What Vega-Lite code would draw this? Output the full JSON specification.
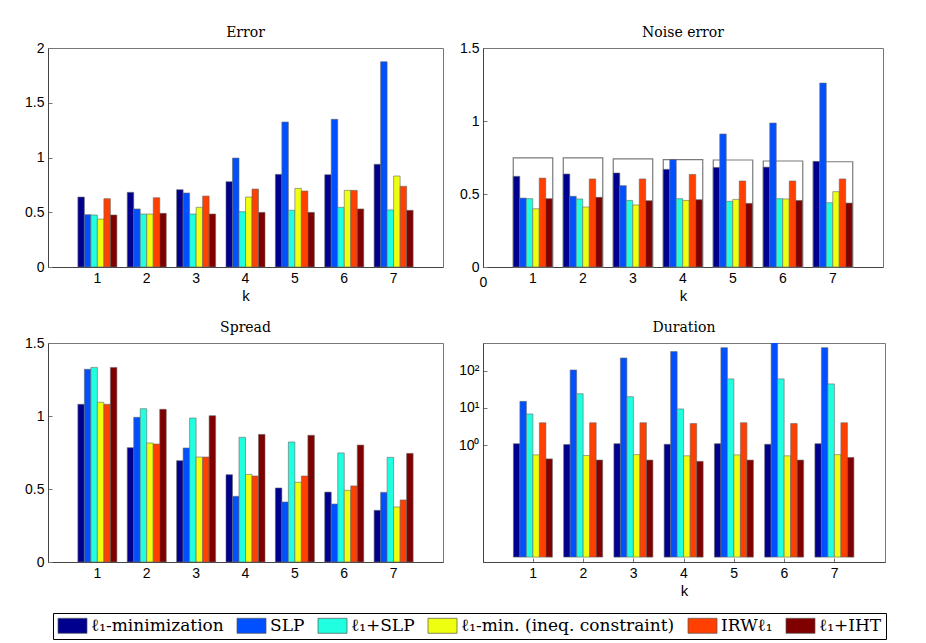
{
  "$schema": "https://vega.github.io/schema/vega-lite/v6.json",
  "autosize": {"type": "none"},
  "padding": {"left": 48, "top": 48, "right": 878, "bottom": 595},
  "background": "white",
  "spacing": 16,
  "datasets": {
    "bars": [
      {"p":"Error","k":1,"m":"ℓ₁-minimization","v":0.639},{"p":"Error","k":1,"m":"SLP","v":0.478},{"p":"Error","k":1,"m":"ℓ₁+SLP","v":0.475},{"p":"Error","k":1,"m":"ℓ₁-min. (ineq. constraint)","v":0.438},{"p":"Error","k":1,"m":"IRWℓ₁","v":0.624},{"p":"Error","k":1,"m":"ℓ₁+IHT","v":0.475},
      {"p":"Error","k":2,"m":"ℓ₁-minimization","v":0.682},{"p":"Error","k":2,"m":"SLP","v":0.530},{"p":"Error","k":2,"m":"ℓ₁+SLP","v":0.484},{"p":"Error","k":2,"m":"ℓ₁-min. (ineq. constraint)","v":0.484},{"p":"Error","k":2,"m":"IRWℓ₁","v":0.633},{"p":"Error","k":2,"m":"ℓ₁+IHT","v":0.490},
      {"p":"Error","k":3,"m":"ℓ₁-minimization","v":0.706},{"p":"Error","k":3,"m":"SLP","v":0.676},{"p":"Error","k":3,"m":"ℓ₁+SLP","v":0.484},{"p":"Error","k":3,"m":"ℓ₁-min. (ineq. constraint)","v":0.545},{"p":"Error","k":3,"m":"IRWℓ₁","v":0.648},{"p":"Error","k":3,"m":"ℓ₁+IHT","v":0.484},
      {"p":"Error","k":4,"m":"ℓ₁-minimization","v":0.779},{"p":"Error","k":4,"m":"SLP","v":0.995},{"p":"Error","k":4,"m":"ℓ₁+SLP","v":0.505},{"p":"Error","k":4,"m":"ℓ₁-min. (ineq. constraint)","v":0.639},{"p":"Error","k":4,"m":"IRWℓ₁","v":0.712},{"p":"Error","k":4,"m":"ℓ₁+IHT","v":0.499},
      {"p":"Error","k":5,"m":"ℓ₁-minimization","v":0.846},{"p":"Error","k":5,"m":"SLP","v":1.324},{"p":"Error","k":5,"m":"ℓ₁+SLP","v":0.518},{"p":"Error","k":5,"m":"ℓ₁-min. (ineq. constraint)","v":0.718},{"p":"Error","k":5,"m":"IRWℓ₁","v":0.694},{"p":"Error","k":5,"m":"ℓ₁+IHT","v":0.499},
      {"p":"Error","k":6,"m":"ℓ₁-minimization","v":0.843},{"p":"Error","k":6,"m":"SLP","v":1.349},{"p":"Error","k":6,"m":"ℓ₁+SLP","v":0.545},{"p":"Error","k":6,"m":"ℓ₁-min. (ineq. constraint)","v":0.700},{"p":"Error","k":6,"m":"IRWℓ₁","v":0.700},{"p":"Error","k":6,"m":"ℓ₁+IHT","v":0.530},
      {"p":"Error","k":7,"m":"ℓ₁-minimization","v":0.938},{"p":"Error","k":7,"m":"SLP","v":1.875},{"p":"Error","k":7,"m":"ℓ₁+SLP","v":0.521},{"p":"Error","k":7,"m":"ℓ₁-min. (ineq. constraint)","v":0.831},{"p":"Error","k":7,"m":"IRWℓ₁","v":0.737},{"p":"Error","k":7,"m":"ℓ₁+IHT","v":0.518},

      {"p":"Noise","k":1,"m":"ℓ₁-minimization","v":0.621},{"p":"Noise","k":1,"m":"SLP","v":0.472},{"p":"Noise","k":1,"m":"ℓ₁+SLP","v":0.468},{"p":"Noise","k":1,"m":"ℓ₁-min. (ineq. constraint)","v":0.399},{"p":"Noise","k":1,"m":"IRWℓ₁","v":0.609},{"p":"Noise","k":1,"m":"ℓ₁+IHT","v":0.468},
      {"p":"Noise","k":2,"m":"ℓ₁-minimization","v":0.637},{"p":"Noise","k":2,"m":"SLP","v":0.484},{"p":"Noise","k":2,"m":"ℓ₁+SLP","v":0.466},{"p":"Noise","k":2,"m":"ℓ₁-min. (ineq. constraint)","v":0.411},{"p":"Noise","k":2,"m":"IRWℓ₁","v":0.603},{"p":"Noise","k":2,"m":"ℓ₁+IHT","v":0.477},
      {"p":"Noise","k":3,"m":"ℓ₁-minimization","v":0.644},{"p":"Noise","k":3,"m":"SLP","v":0.557},{"p":"Noise","k":3,"m":"ℓ₁+SLP","v":0.456},{"p":"Noise","k":3,"m":"ℓ₁-min. (ineq. constraint)","v":0.425},{"p":"Noise","k":3,"m":"IRWℓ₁","v":0.603},{"p":"Noise","k":3,"m":"ℓ₁+IHT","v":0.454},
      {"p":"Noise","k":4,"m":"ℓ₁-minimization","v":0.669},{"p":"Noise","k":4,"m":"SLP","v":0.735},{"p":"Noise","k":4,"m":"ℓ₁+SLP","v":0.468},{"p":"Noise","k":4,"m":"ℓ₁-min. (ineq. constraint)","v":0.456},{"p":"Noise","k":4,"m":"IRWℓ₁","v":0.634},{"p":"Noise","k":4,"m":"ℓ₁+IHT","v":0.461},
      {"p":"Noise","k":5,"m":"ℓ₁-minimization","v":0.682},{"p":"Noise","k":5,"m":"SLP","v":0.911},{"p":"Noise","k":5,"m":"ℓ₁+SLP","v":0.450},{"p":"Noise","k":5,"m":"ℓ₁-min. (ineq. constraint)","v":0.463},{"p":"Noise","k":5,"m":"IRWℓ₁","v":0.589},{"p":"Noise","k":5,"m":"ℓ₁+IHT","v":0.436},
      {"p":"Noise","k":6,"m":"ℓ₁-minimization","v":0.684},{"p":"Noise","k":6,"m":"SLP","v":0.986},{"p":"Noise","k":6,"m":"ℓ₁+SLP","v":0.468},{"p":"Noise","k":6,"m":"ℓ₁-min. (ineq. constraint)","v":0.466},{"p":"Noise","k":6,"m":"IRWℓ₁","v":0.589},{"p":"Noise","k":6,"m":"ℓ₁+IHT","v":0.456},
      {"p":"Noise","k":7,"m":"ℓ₁-minimization","v":0.723},{"p":"Noise","k":7,"m":"SLP","v":1.260},{"p":"Noise","k":7,"m":"ℓ₁+SLP","v":0.440},{"p":"Noise","k":7,"m":"ℓ₁-min. (ineq. constraint)","v":0.516},{"p":"Noise","k":7,"m":"IRWℓ₁","v":0.603},{"p":"Noise","k":7,"m":"ℓ₁+IHT","v":0.438},

      {"p":"Spread","k":1,"m":"ℓ₁-minimization","v":1.080},{"p":"Spread","k":1,"m":"SLP","v":1.320},{"p":"Spread","k":1,"m":"ℓ₁+SLP","v":1.333},{"p":"Spread","k":1,"m":"ℓ₁-min. (ineq. constraint)","v":1.094},{"p":"Spread","k":1,"m":"IRWℓ₁","v":1.080},{"p":"Spread","k":1,"m":"ℓ₁+IHT","v":1.333},
      {"p":"Spread","k":2,"m":"ℓ₁-minimization","v":0.783},{"p":"Spread","k":2,"m":"SLP","v":0.991},{"p":"Spread","k":2,"m":"ℓ₁+SLP","v":1.050},{"p":"Spread","k":2,"m":"ℓ₁-min. (ineq. constraint)","v":0.815},{"p":"Spread","k":2,"m":"IRWℓ₁","v":0.808},{"p":"Spread","k":2,"m":"ℓ₁+IHT","v":1.046},
      {"p":"Spread","k":3,"m":"ℓ₁-minimization","v":0.694},{"p":"Spread","k":3,"m":"SLP","v":0.781},{"p":"Spread","k":3,"m":"ℓ₁+SLP","v":0.986},{"p":"Spread","k":3,"m":"ℓ₁-min. (ineq. constraint)","v":0.719},{"p":"Spread","k":3,"m":"IRWℓ₁","v":0.719},{"p":"Spread","k":3,"m":"ℓ₁+IHT","v":1.002},
      {"p":"Spread","k":4,"m":"ℓ₁-minimization","v":0.598},{"p":"Spread","k":4,"m":"SLP","v":0.450},{"p":"Spread","k":4,"m":"ℓ₁+SLP","v":0.854},{"p":"Spread","k":4,"m":"ℓ₁-min. (ineq. constraint)","v":0.600},{"p":"Spread","k":4,"m":"IRWℓ₁","v":0.589},{"p":"Spread","k":4,"m":"ℓ₁+IHT","v":0.874},
      {"p":"Spread","k":5,"m":"ℓ₁-minimization","v":0.507},{"p":"Spread","k":5,"m":"SLP","v":0.411},{"p":"Spread","k":5,"m":"ℓ₁+SLP","v":0.822},{"p":"Spread","k":5,"m":"ℓ₁-min. (ineq. constraint)","v":0.546},{"p":"Spread","k":5,"m":"IRWℓ₁","v":0.589},{"p":"Spread","k":5,"m":"ℓ₁+IHT","v":0.868},
      {"p":"Spread","k":6,"m":"ℓ₁-minimization","v":0.479},{"p":"Spread","k":6,"m":"SLP","v":0.397},{"p":"Spread","k":6,"m":"ℓ₁+SLP","v":0.747},{"p":"Spread","k":6,"m":"ℓ₁-min. (ineq. constraint)","v":0.491},{"p":"Spread","k":6,"m":"IRWℓ₁","v":0.521},{"p":"Spread","k":6,"m":"ℓ₁+IHT","v":0.801},
      {"p":"Spread","k":7,"m":"ℓ₁-minimization","v":0.354},{"p":"Spread","k":7,"m":"SLP","v":0.477},{"p":"Spread","k":7,"m":"ℓ₁+SLP","v":0.717},{"p":"Spread","k":7,"m":"ℓ₁-min. (ineq. constraint)","v":0.377},{"p":"Spread","k":7,"m":"IRWℓ₁","v":0.425},{"p":"Spread","k":7,"m":"ℓ₁+IHT","v":0.744},

      {"p":"Duration","k":1,"m":"ℓ₁-minimization","v":1.1},{"p":"Duration","k":1,"m":"SLP","v":15},{"p":"Duration","k":1,"m":"ℓ₁+SLP","v":6.9},{"p":"Duration","k":1,"m":"ℓ₁-min. (ineq. constraint)","v":0.55},{"p":"Duration","k":1,"m":"IRWℓ₁","v":4.0},{"p":"Duration","k":1,"m":"ℓ₁+IHT","v":0.43},
      {"p":"Duration","k":2,"m":"ℓ₁-minimization","v":1.04},{"p":"Duration","k":2,"m":"SLP","v":104},{"p":"Duration","k":2,"m":"ℓ₁+SLP","v":24},{"p":"Duration","k":2,"m":"ℓ₁-min. (ineq. constraint)","v":0.53},{"p":"Duration","k":2,"m":"IRWℓ₁","v":4.0},{"p":"Duration","k":2,"m":"ℓ₁+IHT","v":0.40},
      {"p":"Duration","k":3,"m":"ℓ₁-minimization","v":1.1},{"p":"Duration","k":3,"m":"SLP","v":218},{"p":"Duration","k":3,"m":"ℓ₁+SLP","v":20},{"p":"Duration","k":3,"m":"ℓ₁-min. (ineq. constraint)","v":0.56},{"p":"Duration","k":3,"m":"IRWℓ₁","v":4.0},{"p":"Duration","k":3,"m":"ℓ₁+IHT","v":0.40},
      {"p":"Duration","k":4,"m":"ℓ₁-minimization","v":1.06},{"p":"Duration","k":4,"m":"SLP","v":323},{"p":"Duration","k":4,"m":"ℓ₁+SLP","v":9.4},{"p":"Duration","k":4,"m":"ℓ₁-min. (ineq. constraint)","v":0.52},{"p":"Duration","k":4,"m":"IRWℓ₁","v":3.8},{"p":"Duration","k":4,"m":"ℓ₁+IHT","v":0.37},
      {"p":"Duration","k":5,"m":"ℓ₁-minimization","v":1.1},{"p":"Duration","k":5,"m":"SLP","v":413},{"p":"Duration","k":5,"m":"ℓ₁+SLP","v":60},{"p":"Duration","k":5,"m":"ℓ₁-min. (ineq. constraint)","v":0.55},{"p":"Duration","k":5,"m":"IRWℓ₁","v":4.0},{"p":"Duration","k":5,"m":"ℓ₁+IHT","v":0.40},
      {"p":"Duration","k":6,"m":"ℓ₁-minimization","v":1.06},{"p":"Duration","k":6,"m":"SLP","v":650},{"p":"Duration","k":6,"m":"ℓ₁+SLP","v":60},{"p":"Duration","k":6,"m":"ℓ₁-min. (ineq. constraint)","v":0.52},{"p":"Duration","k":6,"m":"IRWℓ₁","v":3.8},{"p":"Duration","k":6,"m":"ℓ₁+IHT","v":0.40},
      {"p":"Duration","k":7,"m":"ℓ₁-minimization","v":1.1},{"p":"Duration","k":7,"m":"SLP","v":413},{"p":"Duration","k":7,"m":"ℓ₁+SLP","v":44},{"p":"Duration","k":7,"m":"ℓ₁-min. (ineq. constraint)","v":0.56},{"p":"Duration","k":7,"m":"IRWℓ₁","v":4.0},{"p":"Duration","k":7,"m":"ℓ₁+IHT","v":0.47}
    ],
    "boxes": [
      {"k":1,"v":0.747},{"k":2,"v":0.747},{"k":3,"v":0.740},{"k":4,"v":0.735},{"k":5,"v":0.733},{"k":6,"v":0.726},{"k":7,"v":0.721}
    ]
  },
  "vconcat": [
    {
      "bounds": "flush",
      "spacing": 40,
      "hconcat": [
        {
          "title": "Error",
          "width": 395, "height": 219,
          "data": {"name": "bars"},
          "transform": [{"filter": "datum.p == 'Error'"}],
          "mark": {"type": "bar", "stroke": "#666", "strokeWidth": 0.6},
          "encoding": {
            "x": {"field": "k", "type": "ordinal", "scale": {"domain": [1,2,3,4,5,6,7], "paddingInner": 0.21, "paddingOuter": 0.605}, "axis": {"title": "k", "labelAngle": 0}},
            "xOffset": {"field": "m", "type": "nominal", "scale": {"domain": ["ℓ₁-minimization","SLP","ℓ₁+SLP","ℓ₁-min. (ineq. constraint)","IRWℓ₁","ℓ₁+IHT"], "paddingInner": 0}},
            "y": {"field": "v", "type": "quantitative", "scale": {"domain": [0, 2], "nice": false}, "axis": {"values": [0,0.5,1,1.5,2], "format": "~g", "title": null}},
            "color": {"field": "m", "type": "nominal", "title": null, "scale": {"domain": ["ℓ₁-minimization","SLP","ℓ₁+SLP","ℓ₁-min. (ineq. constraint)","IRWℓ₁","ℓ₁+IHT"], "range": ["#00008F", "#0050FF", "#20FFDF", "#EFFF10", "#FF4000", "#800000"]}}
          }
        },
        {
          "title": "Noise error",
          "width": 400, "height": 219,
          "layer": [
            {
              "layer": [
                {
                  "data": {"name": "boxes"},
                  "mark": {"type": "bar", "fill": null, "fillOpacity": 0, "stroke": "#7a7a7a", "strokeWidth": 1.2},
                  "encoding": {
                    "x": {"field": "k", "type": "ordinal", "scale": {"domain": [1,2,3,4,5,6,7], "paddingInner": 0.21, "paddingOuter": 0.605}, "axis": {"title": "k", "labelAngle": 0, "orient": "bottom"}},
                    "y": {"field": "v", "type": "quantitative", "scale": {"domain": [0, 1.5], "nice": false}, "axis": {"values": [0,0.5,1,1.5], "format": "~g", "title": null}}
                  }
                },
                {
                  "data": {"name": "bars"},
                  "transform": [{"filter": "datum.p == 'Noise'"}],
                  "mark": {"type": "bar", "stroke": "#666", "strokeWidth": 0.6},
                  "encoding": {
                    "x": {"field": "k", "type": "ordinal"},
                    "xOffset": {"field": "m", "type": "nominal", "scale": {"domain": ["ℓ₁-minimization","SLP","ℓ₁+SLP","ℓ₁-min. (ineq. constraint)","IRWℓ₁","ℓ₁+IHT"], "paddingInner": 0}},
                    "y": {"field": "v", "type": "quantitative"},
                    "color": {"field": "m", "type": "nominal", "title": null}
                  }
                }
              ]
            },
            {
              "data": {"values": [{"z": 0}]},
              "mark": {"type": "rule", "opacity": 0},
              "encoding": {
                "x": {"field": "z", "type": "quantitative", "scale": {"domain": [0, 8], "nice": false}, "axis": {"orient": "bottom", "values": [0], "ticks": false, "domain": false, "title": null, "labelAlign": "center", "labelPadding": 8}}
              }
            }
          ],
          "resolve": {"scale": {"x": "independent"}, "axis": {"x": "independent"}}
        }
      ]
    },
    {
      "bounds": "flush",
      "spacing": 40,
      "hconcat": [
        {
          "title": "Spread",
          "width": 395, "height": 219,
          "data": {"name": "bars"},
          "transform": [{"filter": "datum.p == 'Spread'"}],
          "mark": {"type": "bar", "stroke": "#666", "strokeWidth": 0.6},
          "encoding": {
            "x": {"field": "k", "type": "ordinal", "scale": {"domain": [1,2,3,4,5,6,7], "paddingInner": 0.21, "paddingOuter": 0.605}, "axis": {"title": null, "labelAngle": 0}},
            "xOffset": {"field": "m", "type": "nominal", "scale": {"domain": ["ℓ₁-minimization","SLP","ℓ₁+SLP","ℓ₁-min. (ineq. constraint)","IRWℓ₁","ℓ₁+IHT"], "paddingInner": 0}},
            "y": {"field": "v", "type": "quantitative", "scale": {"domain": [0, 1.5], "nice": false}, "axis": {"values": [0,0.5,1,1.5], "format": "~g", "title": null}},
            "color": {"field": "m", "type": "nominal", "title": null}
          }
        },
        {
          "title": {"text": "Duration", "offset": 8},
          "width": 402, "height": 219,
          "layer": [
            {
              "data": {"name": "bars"},
              "transform": [{"filter": "datum.p == 'Duration'"}],
              "mark": {"type": "bar", "stroke": "#666", "strokeWidth": 0.6, "clip": true},
              "encoding": {
                "x": {"field": "k", "type": "ordinal", "scale": {"domain": [1,2,3,4,5,6,7], "paddingInner": 0.21, "paddingOuter": 0.605}, "axis": {"title": "k", "labelAngle": 0}},
                "xOffset": {"field": "m", "type": "nominal", "scale": {"domain": ["ℓ₁-minimization","SLP","ℓ₁+SLP","ℓ₁-min. (ineq. constraint)","IRWℓ₁","ℓ₁+IHT"], "paddingInner": 0}},
                "y": {"field": "v", "type": "quantitative", "scale": {"type": "log", "domain": [0.00074, 550], "nice": false}, "axis": {"values": [1,10,100], "title": null, "labelExpr": "datum.value == 100 ? '10²' : datum.value == 10 ? '10¹' : '10⁰'"}},
                "y2": {"datum": 0.001},
                "color": {"field": "m", "type": "nominal", "title": null}
              }
            },
            {
              "mark": {"type": "rule", "color": "#444", "strokeWidth": 1},
              "encoding": {"y": {"datum": 0.001}}
            }
          ]
        }
      ]
    }
  ],
  "config": {
    "font": "Liberation Sans",
    "view": {"stroke": "#777", "strokeWidth": 1},
    "axis": {
      "labelFont": "Liberation Sans", "labelFontSize": 14, "labelColor": "#000",
      "domainColor": "#444", "tickColor": "#777", "tickSize": -4, "grid": false,
      "titleFont": "Liberation Sans", "titleFontSize": 15, "titleFontWeight": "normal", "titleColor": "#000", "titlePadding": 3, "labelPadding": 8
    },
    "title": {"font": "DejaVu Serif", "fontSize": 14, "fontWeight": "normal", "offset": 1, "frame": "group", "color": "#000"},
    "legend": {
      "orient": "none", "legendX": 5, "legendY": 565,
      "direction": "horizontal", "columns": 6, "columnPadding": 11,
      "strokeColor": "#000", "fillColor": "white", "padding": 4,
      "labelFont": "DejaVu Serif", "labelFontSize": 17, "labelColor": "#000", "labelOffset": 17, "labelLimit": 400,
      "symbolType": "M-1,-1H2.87V1H-1Z", "symbolSize": 225, "symbolOpacity": 1,
      "symbolStrokeColor": "#555", "symbolStrokeWidth": 0.7
    }
  },
  "resolve": {"scale": {"color": "shared"}}
}
